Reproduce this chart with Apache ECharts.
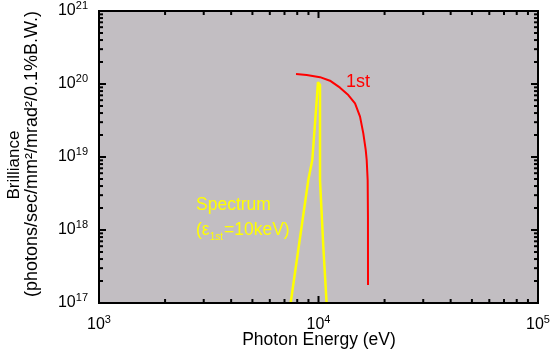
<!DOCTYPE html>
<html>
<head>
<meta charset="utf-8">
<script src="https://cdn.jsdelivr.net/npm/echarts@6/dist/echarts.min.js"></script>
<style>
html,body{margin:0;padding:0;background:#fff;}
#c{width:555px;height:362px;}
</style>
</head>
<body>
<div id="c"></div>
<script>
// Photon energy (eV) and brilliance values
const firstX = [7900, 8835, 10160, 11280, 12530, 13670, 14670, 15460, 16000, 16410, 16580, 16750, 16800, 16810];
const firstY = [1.37e20, 1.33e20, 1.24e20, 1.11e20, 8.9e19, 7.06e19, 5.44e19, 3.57e19, 2.11e19, 1.25e19, 9.1e18, 4.8e18, 1.5e18, 1.77e17];
const specX = [7467, 8986, 9370, 9741, 9948, 10160, 10160, 10160, 10518, 10886];
const specY = [1e17, 4.84e18, 9.1e18, 4.4e19, 1.06e20, 9.7e19, 9.1e18, 4.84e18, 5.9e17, 1e17];
// axis ranges and tick values
const xRange = [1e3, 1e5];
const yRange = [1e17, 1e21];
const xMajorTicks = [1e3, 1e4, 1e5];
const yMajorTicks = [1e17, 1e18, 1e19, 1e20, 1e21];
const xMinorTicks = [2e3,3e3,4e3,5e3,6e3,7e3,8e3,9e3,2e4,3e4,4e4,5e4,6e4,7e4,8e4,9e4];
const yMinorTicks = [2e17,3e17,4e17,5e17,6e17,7e17,8e17,9e17,
                     2e18,3e18,4e18,5e18,6e18,7e18,8e18,9e18,
                     2e19,3e19,4e19,5e19,6e19,7e19,8e19,9e19,
                     2e20,3e20,4e20,5e20,6e20,7e20,8e20,9e20];
const xTitle = 'Photon Energy (eV)';
const yTitle1 = 'Brilliance';
const yTitle2 = '(photons/sec/mm\u00B2/mrad\u00B2/0.1%B.W.)';

const FONT = '"Liberation Sans", Arial, sans-serif';
const chart = echarts.init(document.getElementById('c'), null, {renderer: 'canvas'});

function expLabel(v) {
  return '{b|10}{s|' + Math.round(Math.log10(v)) + '}';
}
const labelRich = {
  b: {fontSize: 16, fontFamily: FONT, color: '#000', lineHeight: 22},
  s: {fontSize: 11, fontFamily: FONT, color: '#000', verticalAlign: 'top', lineHeight: 10}
};

// one custom series draws the frame (kind 0) and all ticks (kinds 1-4)
const decoData = [[xRange[0], yRange[0], 0]]
  .concat(xMajorTicks.map(function(v){ return [v, yRange[0], 1]; }))
  .concat(xMinorTicks.map(function(v){ return [v, yRange[0], 2]; }))
  .concat(yMajorTicks.map(function(v){ return [xRange[0], v, 3]; }))
  .concat(yMinorTicks.map(function(v){ return [xRange[0], v, 4]; }));

function renderDeco(params, api) {
  const kind = api.value(2);
  const cs = params.coordSys;
  const l = cs.x, t = cs.y, r = cs.x + cs.width, b = cs.y + cs.height;
  const st = {stroke: '#000', lineWidth: 2};
  const pt = api.coord([api.value(0), api.value(1)]);
  if (kind === 0) {
    return {type: 'group', children: [
      {type: 'line', shape: {x1: l - 1, y1: b, x2: r + 1, y2: b}, style: st},
      {type: 'line', shape: {x1: l - 1, y1: t, x2: r + 1, y2: t}, style: st},
      {type: 'line', shape: {x1: l, y1: t, x2: l, y2: b}, style: st},
      {type: 'line', shape: {x1: r, y1: t, x2: r, y2: b}, style: st}
    ]};
  }
  if (kind === 1 || kind === 2) {
    const len = kind === 1 ? 7 : 4;
    const x = pt[0];
    return {type: 'group', children: [
      {type: 'line', shape: {x1: x, y1: b, x2: x, y2: b - len}, style: st},
      {type: 'line', shape: {x1: x, y1: t, x2: x, y2: t + len}, style: st}
    ]};
  }
  const len = kind === 3 ? 7 : 4;
  const y = pt[1];
  return {type: 'group', children: [
    {type: 'line', shape: {x1: l, y1: y, x2: l + len, y2: y}, style: st},
    {type: 'line', shape: {x1: r, y1: y, x2: r - len, y2: y}, style: st}
  ]};
}

// place the pieces of "(ε1st=10keV)" one after another
const mctx = document.createElement('canvas').getContext('2d');
function textW(str, size) { mctx.font = size + 'px ' + FONT; return mctx.measureText(str).width; }
const epsX0 = 196;
const epsX1 = epsX0 + textW('(\u03B5', 17.5);
const epsX2 = epsX1 + textW('1st', 10) + 1;

chart.setOption({
  backgroundColor: '#ffffff',
  animation: false,
  grid: {left: 99, top: 11, right: 17, bottom: 59, show: true, backgroundColor: '#c2bec2', borderWidth: 0},
  xAxis: {type: 'log', logBase: 10, min: xRange[0], max: xRange[1],
          axisLine: {show: false, onZero: false}, axisTick: {show: false}, splitLine: {show: false},
          axisLabel: {formatter: expLabel, rich: labelRich, margin: 11}},
  yAxis: {type: 'log', logBase: 10, min: yRange[0], max: yRange[1],
          axisLine: {show: false, onZero: false}, axisTick: {show: false}, splitLine: {show: false},
          axisLabel: {formatter: expLabel, rich: labelRich, margin: 11}},
  series: [
    {type: 'line', name: 'Spectrum', data: specX.map(function(x, i){ return [x, specY[i]]; }),
     showSymbol: false, symbol: 'none', lineStyle: {color: '#ffff00', width: 2.5}, z: 3},
    {type: 'line', name: '1st', data: firstX.map(function(x, i){ return [x, firstY[i]]; }),
     showSymbol: false, symbol: 'none', lineStyle: {color: '#ff0000', width: 2}, z: 4},
    {type: 'custom', renderItem: renderDeco, encode: {x: 0, y: 1}, data: decoData, z: 5}
  ],
  graphic: [
    {type: 'text', x: 319, y: 340, silent: true,
     style: {text: xTitle, font: '17.5px ' + FONT, fill: '#000', textAlign: 'center', textVerticalAlign: 'middle'}},
    {type: 'text', x: 14, y: 165, rotation: Math.PI / 2, silent: true,
     style: {text: yTitle1, font: '17px ' + FONT, fill: '#000', textAlign: 'center', textVerticalAlign: 'middle'}},
    {type: 'text', x: 32, y: 154, rotation: Math.PI / 2, silent: true,
     style: {text: yTitle2, font: '18px ' + FONT, fill: '#000', textAlign: 'center', textVerticalAlign: 'middle'}},
    {type: 'text', x: 346, y: 82, silent: true,
     style: {text: '1st', font: '18px ' + FONT, fill: '#ff0000', textAlign: 'left', textVerticalAlign: 'middle'}},
    {type: 'text', x: 196, y: 205, silent: true,
     style: {text: 'Spectrum', font: '17.5px ' + FONT, fill: '#ffff00', textAlign: 'left', textVerticalAlign: 'middle'}},
    {type: 'text', x: epsX0, y: 230, silent: true,
     style: {text: '(\u03B5', font: '17.5px ' + FONT, fill: '#ffff00', textAlign: 'left', textVerticalAlign: 'middle'}},
    {type: 'text', x: epsX1, y: 237, silent: true,
     style: {text: '1st', font: '10px ' + FONT, fill: '#ffff00', textAlign: 'left', textVerticalAlign: 'middle'}},
    {type: 'text', x: epsX2, y: 230, silent: true,
     style: {text: '=10keV)', font: '17.5px ' + FONT, fill: '#ffff00', textAlign: 'left', textVerticalAlign: 'middle'}}
  ]
});
</script>
</body>
</html>
